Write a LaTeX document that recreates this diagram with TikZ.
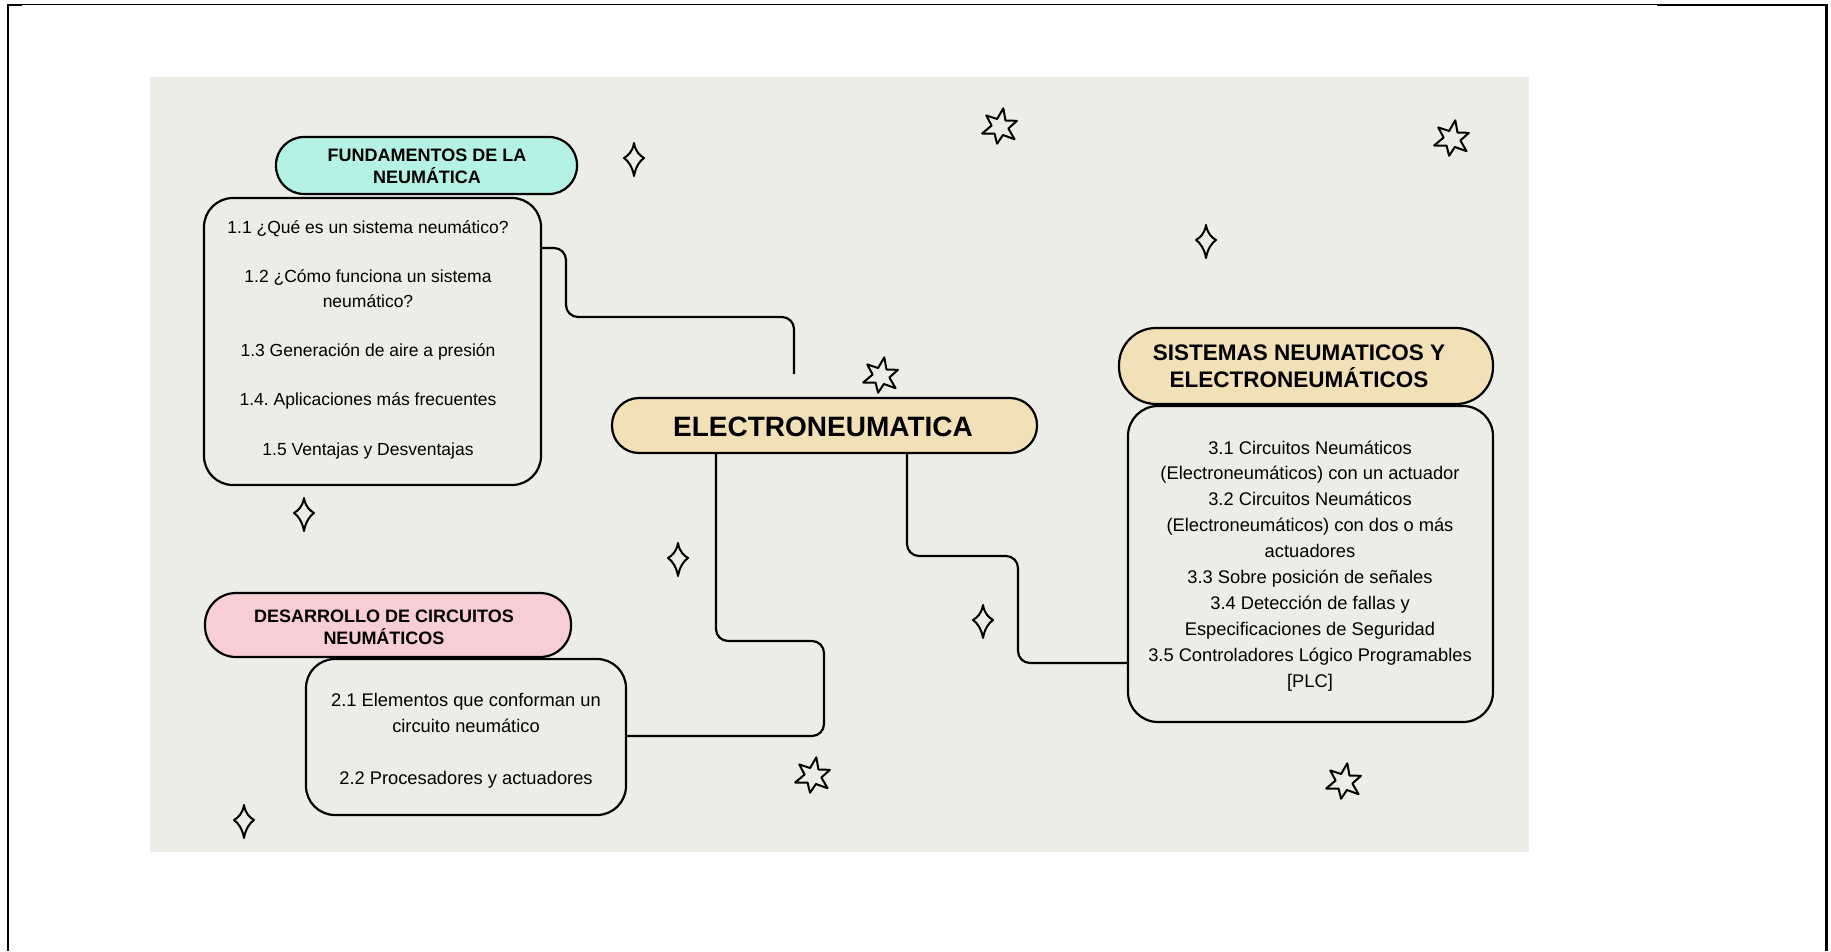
\documentclass[tikz,border=0pt]{standalone}
\usepackage{fontspec}
\setmainfont{Liberation Sans}
\frenchspacing
\definecolor{bgc}{RGB}{237,237,232}
\definecolor{aquac}{RGB}{181,242,230}
\definecolor{tanc}{RGB}{242,224,183}
\definecolor{pinkc}{RGB}{247,206,211}
\newcommand{\fsz}[2]{\fontsize{#1}{#2}\selectfont}
\tikzset{
  box/.style={draw=black, line width=2.2pt, rounded corners=29pt, inner sep=0pt},
  pill/.style={draw=black, line width=2.2pt, inner sep=0pt},
  conn/.style={draw=black, line width=2.2pt, rounded corners=12pt},
  txt/.style={anchor=base, inner sep=0pt, text=black},
  deco/.style={draw=black, line width=2pt, line join=round},
  frame/.style={draw=black},
  sparkle/.pic={\draw[deco] (0,-15) .. controls (1.5,-6) and (6,-2.5) .. (10,0)
      .. controls (6,2.5) and (1.5,9) .. (0,18) .. controls (-1.5,9) and (-6,2.5) .. (-10,0)
      .. controls (-6,-2.5) and (-1.5,-6) .. cycle;},
  sixstar/.pic={\draw[deco] (-80:19) -- (-50:8.5) -- (-20:18) -- (10:8.5) -- (40:19)
      -- (70:8.5) -- (100:17) -- (130:8.5) -- (160:19) -- (190:8.5) -- (220:18)
      -- (250:8.5) -- cycle;}
}
\begin{document}
\begin{tikzpicture}[x=1pt,y=-1pt]
\useasboundingbox (0,0) rectangle (1831,951);
% page frame
\draw[frame, line width=1pt] (7,4.5) -- (1657,4.5);
\draw[frame, line width=2pt] (7,5) -- (22,5);
\draw[frame, line width=2pt] (1657,5) -- (1827,5);
\draw[frame, line width=2pt] (7.5,4) -- (7.5,951);
\draw[frame, line width=3pt] (1826.5,4) -- (1826.5,951);
% background
\fill[bgc] (150,77) rectangle (1529,852);

% boxes
\node[box, minimum width=337pt, minimum height=287pt] (box1) at (372.5,341.5) {};
\node[box, minimum width=320pt, minimum height=156pt] (box2) at (466,737) {};
\node[box, minimum width=365pt, minimum height=316pt, rounded corners=30pt] (box3) at (1310.5,564) {};

% pills
\node[pill, fill=aquac, rounded corners=28pt, minimum width=301pt, minimum height=57pt] (p1) at (426.5,165.5) {};
\node[pill, fill=pinkc, rounded corners=31pt, minimum width=366pt, minimum height=64pt] (p2) at (388,625) {};
\node[pill, fill=tanc, rounded corners=37pt, minimum width=374pt, minimum height=76pt] (p3) at (1306,366) {};
\node[pill, fill=tanc, rounded corners=27pt, minimum width=425pt, minimum height=55pt] (cen) at (824.5,425.5) {};

% texts
\node[txt] (tc) at (823,436) {\fsz{28}{32}\bfseries ELECTRONEUMATICA};
\node[txt] (h1) at (427,161) {\fsz{18}{21}\bfseries\begin{tabular}[t]{@{}c@{}}FUNDAMENTOS DE LA\\NEUMÁTICA\end{tabular}};
\node[txt] (h2) at (384,622) {\fsz{18}{22}\bfseries\begin{tabular}[t]{@{}c@{}}DESARROLLO DE CIRCUITOS\\NEUMÁTICOS\end{tabular}};
\node[txt] (h3) at (1299,360) {\fsz{22.5}{26.5}\bfseries\begin{tabular}[t]{@{}c@{}}SISTEMAS NEUMATICOS Y\\ELECTRONEUMÁTICOS\end{tabular}};

\node[txt] (t1) at (368,233) {\fsz{17.5}{24.7}\begin{tabular}[t]{@{}c@{}}1.1 ¿Qué es un sistema neumático?\\ \\1.2 ¿Cómo funciona un sistema\\neumático?\\ \\1.3 Generación de aire a presión\\ \\1.4. Aplicaciones más frecuentes\\ \\1.5 Ventajas y Desventajas\end{tabular}};
\node[txt] (t2) at (466,706) {\fsz{18.3}{26}\begin{tabular}[t]{@{}c@{}}2.1 Elementos que conforman un\\circuito neumático\\ \\2.2 Procesadores y actuadores\end{tabular}};
\node[txt] (t3) at (1310,454) {\fsz{18.3}{25.9}\begin{tabular}[t]{@{}c@{}}3.1 Circuitos Neumáticos\\(Electroneumáticos) con un actuador\\3.2 Circuitos Neumáticos\\(Electroneumáticos) con dos o más\\actuadores\\3.3 Sobre posición de señales\\3.4 Detección de fallas y\\Especificaciones de Seguridad\\3.5 Controladores Lógico Programables\\{}[PLC]\end{tabular}};

% connectors
\coordinate (e1) at (794,374);
\draw[conn] (box1.east |- 0,248) -| (566,317) -| (e1);
\draw[conn] (cen.south -| 716,0) |- (824,641) |- (box2.east |- 0,736);
\draw[conn] (cen.south -| 907,0) |- (1018,556) |- (box3.west |- 0,663);

% decorations
\pic at (634,158) {sparkle};
\pic at (1206,240) {sparkle};
\pic at (304,513) {sparkle};
\pic at (678,558) {sparkle};
\pic at (983,620) {sparkle};
\pic at (244,820) {sparkle};
\pic at (1000,127) {sixstar};
\pic at (1452,139) {sixstar};
\pic at (881,376) {sixstar};
\pic at (813,776) {sixstar};
\pic at (1344,782) {sixstar};
\end{tikzpicture}
\end{document}
